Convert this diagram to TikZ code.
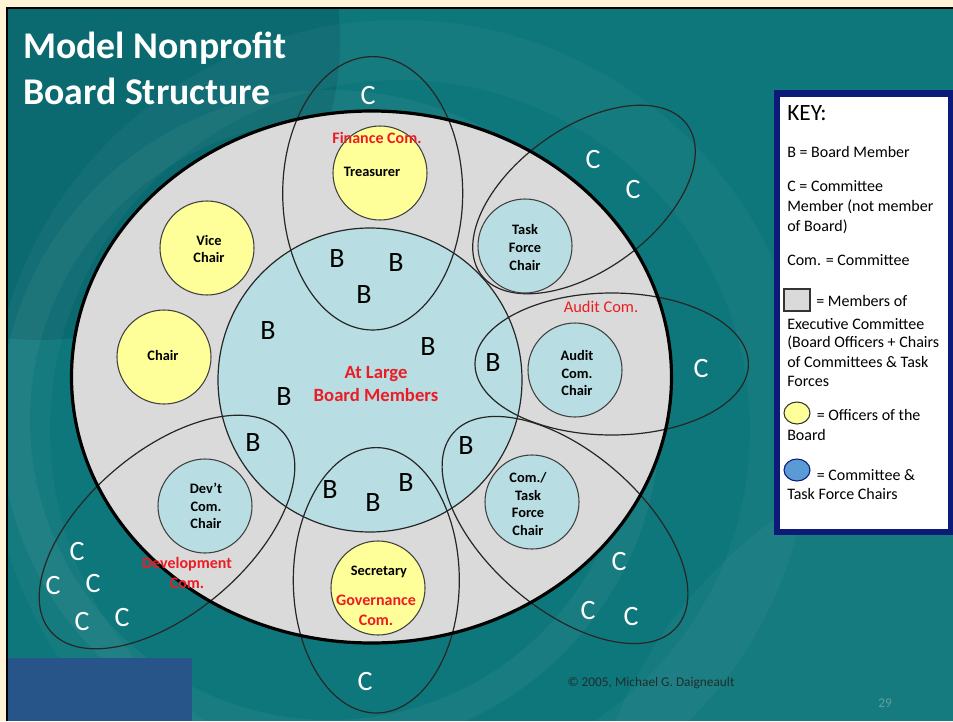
\documentclass[tikz,border=0pt]{standalone}
\usepackage{fontspec}
\setmainfont{Carlito}
\definecolor{cream}{RGB}{255,244,214}
\definecolor{tealbg}{RGB}{14,119,123}
\definecolor{tealdark}{RGB}{10,96,104}
\definecolor{exgrey}{RGB}{218,218,218}
\definecolor{chairblue}{RGB}{184,222,228}
\definecolor{offyellow}{RGB}{255,255,153}
\definecolor{comred}{RGB}{236,28,36}
\definecolor{keynavy}{RGB}{12,26,120}
\definecolor{keyblue}{RGB}{91,155,213}
\definecolor{cornerblue}{RGB}{39,85,138}
\definecolor{pagenum}{RGB}{95,160,160}
\definecolor{copygrey}{RGB}{30,45,45}
\tikzset{
  comline/.style={draw=black!85, line width=0.9pt},
  officer/.style={fill=offyellow, draw=black!75, line width=0.8pt},
  chairc/.style={fill=chairblue, draw=black!75, line width=0.8pt},
  bletter/.style={inner sep=0pt, text=black, font=\fontsize{21}{21}\selectfont},
  cletter/.style={inner sep=0pt, text=white, font=\fontsize{21}{21}\selectfont},
  rolelabel/.style={inner sep=0pt, align=center, text=black, font=\bfseries\fontsize{10.8}{13.2}\selectfont},
  redlabel/.style={inner sep=0pt, align=center, text=comred, font=\bfseries\fontsize{12}{15}\selectfont},
  keytext/.style={inner sep=0pt, anchor=base west, text=black, font=\fontsize{12}{14}\selectfont},
  titletext/.style={inner sep=0pt, anchor=base west, text=white, font=\bfseries\fontsize{28.3}{30}\selectfont}
}
\begin{document}
\begin{tikzpicture}[x=0.75pt,y=-0.75pt]
\useasboundingbox (0,0) rectangle (953,721);
% frame and background
\fill[cream] (0,0) rectangle (953,721);
\fill[tealbg] (7,8) rectangle (953,721);
\begin{scope}
  \clip (7,8) rectangle (953,721);
  \fill[tealdark, opacity=0.55] (40,40) circle[radius=300];
  \fill[white, opacity=0.035, even odd rule] (400,430) circle[radius=410] (400,430) circle[radius=350];
  \fill[white, opacity=0.045, even odd rule] (330,420) circle[radius=330] (330,420) circle[radius=300];
  \fill[white, opacity=0.03] (1050,900) circle[radius=470];
\end{scope}
\draw[black, line width=0.9pt] (7,721) -- (7,8) -- (953,8);
% executive committee area
\fill[exgrey] (371.5,377) ellipse[x radius=300, y radius=266];
\draw[comline, fill=chairblue] (370,380) circle[radius=152];
% committee ellipses
\draw[comline] (372.7,193.3) ellipse[x radius=90, y radius=136.7];
\draw[comline] (376.3,580.3) ellipse[x radius=83, y radius=132.7];
\draw[comline] (611.7,364) ellipse[x radius=136.7, y radius=71];
\begin{scope}[shift={(584,199.5)}, rotate=35.9]
  \draw[comline] (0,0) ellipse[x radius=127.4, y radius=71];
\end{scope}
\begin{scope}[shift={(565,530)}, rotate=-41]
  \draw[comline] (0,0) ellipse[x radius=148, y radius=78];
\end{scope}
\begin{scope}[shift={(167,532)}, rotate=40.4]
  \draw[comline] (0,0) ellipse[x radius=153, y radius=81];
\end{scope}
\draw[black, line width=2.4pt] (371.5,377) ellipse[x radius=300, y radius=266];
% officer and chair circles
\draw[officer] (380,173) circle[radius=47];
\draw[officer] (207,248) circle[radius=47];
\draw[officer] (164,357) circle[radius=47];
\draw[officer] (378,588) circle[radius=47];
\draw[chairc] (525,246) circle[radius=47];
\draw[chairc] (575,370) circle[radius=47];
\draw[chairc] (532,502) circle[radius=47];
\draw[chairc] (205,506) circle[radius=47];
% title
\node[titletext] (title1) at (23,58) {Model Nonprofit};
\node[titletext] (title2) at (23,104) {Board Structure};
% role labels
\node[rolelabel] (treasurer) at (372,172) {Treasurer};
\node[rolelabel] (vicechair) at (209,249) {Vice\\Chair};
\node[rolelabel] (chair) at (163,355) {Chair};
\node[rolelabel] (taskchair) at (525,247.5) {Task\\Force\\Chair};
\node[rolelabel] (auditchair) at (577,373) {Audit\\Com.\\Chair};
\node[rolelabel] (comtaskchair) at (528,504) {Com./\\Task\\Force\\Chair};
\node[rolelabel] (devchair) at (206,506) {Dev't\\Com.\\Chair};
\node[rolelabel] (secretary) at (379,572) {Secretary};
% committee labels
\node[redlabel] (finance) at (377,138) {Finance Com.};
\node[inner sep=0pt, text=comred, font=\fontsize{12.3}{15}\selectfont] (audit) at (601,307) {Audit Com.};
\node[redlabel] (development) at (187,573) {Development\\Com.};
\node[redlabel] (governance) at (376,610) {Governance\\Com.};
\node[redlabel, font=\bfseries\fontsize{14}{17.5}\selectfont] (atlarge) at (376,384) {At Large\\Board Members};
% board members
\node[bletter] (b1) at (337,259) {B};
\node[bletter] (b2) at (396,263) {B};
\node[bletter] (b3) at (364,295) {B};
\node[bletter] (b4) at (268,331) {B};
\node[bletter] (b5) at (428,347) {B};
\node[bletter] (b6) at (284,397) {B};
\node[bletter] (b7) at (493,363) {B};
\node[bletter] (b8) at (253,443) {B};
\node[bletter] (b9) at (466,446) {B};
\node[bletter] (b10) at (330,490) {B};
\node[bletter] (b11) at (373,503) {B};
\node[bletter] (b12) at (406,483) {B};
% committee members
\node[cletter] (c1) at (368,96) {C};
\node[cletter] (c2) at (593,160) {C};
\node[cletter] (c3) at (633,190) {C};
\node[cletter] (c4) at (701,369) {C};
\node[cletter] (c5) at (619,562) {C};
\node[cletter] (c6) at (588,611) {C};
\node[cletter] (c7) at (631,617) {C};
\node[cletter] (c8) at (365,682) {C};
\node[cletter] (c9) at (77,552) {C};
\node[cletter] (c10) at (53,586) {C};
\node[cletter] (c11) at (93,584) {C};
\node[cletter] (c12) at (82,622) {C};
\node[cletter] (c13) at (122,618) {C};
% key
\fill[keynavy] (774,90) rectangle (953,535);
\fill[white] (780,97) rectangle (948,529);
\node[keytext, font=\fontsize{17.5}{19}\selectfont] (keyhead) at (787,120.7) {KEY:};
\node[keytext] (k1) at (787,157) {B = Board Member};
\node[keytext] (k2) at (787,191.7) {C = Committee};
\node[keytext] (k3) at (787,211.7) {Member (not member};
\node[keytext] (k4) at (787,231.7) {of Board)};
\node[keytext] (k5) at (787,265) {Com. = Committee};
\draw[fill=exgrey, draw=black!80, line width=0.8pt] (784,289) rectangle (810,311);
\node[keytext] (k6) at (816,306.7) {= Members of};
\node[keytext] (k7) at (787,329) {Executive Committee};
\node[keytext] (k8) at (787,347.7) {(Board Officers + Chairs};
\node[keytext] (k9) at (787,367) {of Committees \& Task};
\node[keytext] (k10) at (787,386.7) {Forces};
\draw[fill=offyellow, draw=black!80, line width=0.8pt] (797,413) ellipse[x radius=13, y radius=11];
\node[keytext] (k11) at (816.5,420.7) {= Officers of the};
\node[keytext] (k12) at (787,440.7) {Board};
\draw[fill=keyblue, draw=keynavy, line width=0.8pt] (797,470) ellipse[x radius=13, y radius=11];
\node[keytext] (k13) at (816.5,480) {= Committee \&};
\node[keytext] (k14) at (787,499) {Task Force Chairs};
% footer
\fill[cornerblue] (8,658) rectangle (192,721);
\node[inner sep=0pt, text=copygrey, font=\fontsize{10}{11}\selectfont] (copyright) at (651,683) {© 2005, Michael G. Daigneault};
\node[inner sep=0pt, text=pagenum, font=\fontsize{10}{11}\selectfont] (pageno) at (885,703) {29};
\end{tikzpicture}
\end{document}
